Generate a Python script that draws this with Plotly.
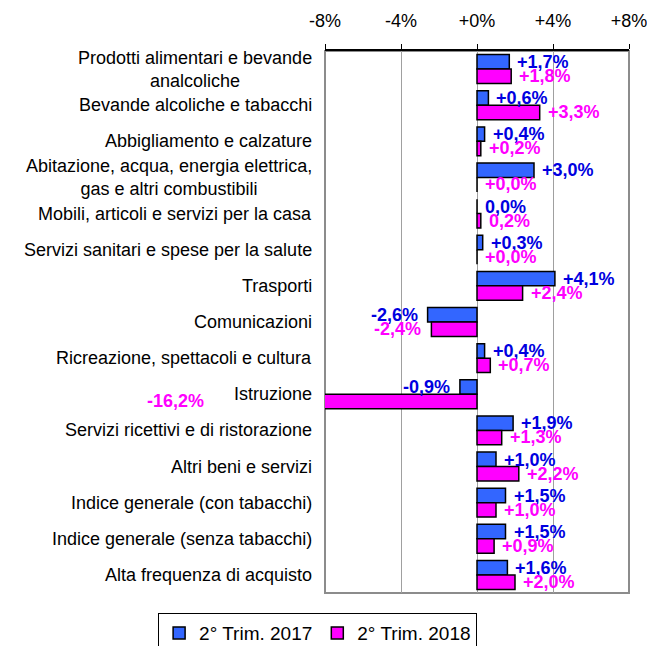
import plotly.graph_objects as go

CATEGORIES = [
    "Prodotti alimentari e bevande<br>analcoliche",
    "Bevande alcoliche e tabacchi",
    "Abbigliamento e calzature",
    "Abitazione, acqua, energia elettrica,<br>gas e altri combustibili",
    "Mobili, articoli e servizi per la casa",
    "Servizi sanitari e spese per la salute",
    "Trasporti",
    "Comunicazioni",
    "Ricreazione, spettacoli e cultura",
    "Istruzione",
    "Servizi ricettivi e di ristorazione",
    "Altri beni e servizi",
    "Indice generale (con tabacchi)",
    "Indice generale (senza tabacchi)",
    "Alta frequenza di acquisto",
]
VALUES_2017 = [1.7, 0.6, 0.4, 3.0, 0.0, 0.3, 4.1, -2.6, 0.4, -0.9, 1.9, 1.0, 1.5, 1.5, 1.6]
VALUES_2018 = [1.8, 3.3, 0.2, 0.0, 0.2, 0.0, 2.4, -2.4, 0.7, -16.2, 1.3, 2.2, 1.0, 0.9, 2.0]
LABELS_2017 = ["+1,7%", "+0,6%", "+0,4%", "+3,0%", "0,0%", "+0,3%", "+4,1%", "-2,6%",
               "+0,4%", "-0,9%", "+1,9%", "+1,0%", "+1,5%", "+1,5%", "+1,6%"]
LABELS_2018 = ["+1,8%", "+3,3%", "+0,2%", "+0,0%", "0,2%", "+0,0%", "+2,4%", "-2,4%",
               "+0,7%", "-16,2%", "+1,3%", "+2,2%", "+1,0%", "+0,9%", "+2,0%"]
SERIES_NAMES = ["2° Trim. 2017", "2° Trim. 2018"]
X_TICKS = [-8, -4, 0, 4, 8]
X_TICK_TEXT = ["-8%", "-4%", "+0%", "+4%", "+8%"]

FONT = "Liberation Sans, Arial, sans-serif"
BAR_COLORS = ["#3366FF", "#FF00FF"]
TEXT_COLORS = ["#0000E0", "#FF00FF"]
XMIN, XMAX = -8, 8

fig = go.Figure()
for name, vals, color in zip(SERIES_NAMES, [VALUES_2017, VALUES_2018], BAR_COLORS):
    fig.add_trace(
        go.Bar(
            y=CATEGORIES,
            x=vals,
            name=name,
            orientation="h",
            marker={"color": color, "line": {"color": "black", "width": 1.5}},
        )
    )

annotations = []

# category names, centred multi-line like the original
for cat in CATEGORIES:
    annotations.append(
        dict(
            x=0,
            xref="paper",
            y=cat,
            yref="y",
            text=cat,
            showarrow=False,
            xanchor="right",
            align="center",
            xshift=-11,
            font={"family": FONT, "size": 18, "color": "black"},
        )
    )

# value labels next to each bar
for k, (vals, labels) in enumerate([(VALUES_2017, LABELS_2017), (VALUES_2018, LABELS_2018)]):
    yshift = 7 if k == 0 else -7
    for cat, v, lab in zip(CATEGORIES, vals, labels):
        ann = dict(
            y=cat,
            text=lab,
            showarrow=False,
            yshift=yshift,
            font={"family": FONT, "size": 18, "color": TEXT_COLORS[k], "weight": "bold"},
        )
        if v < XMIN:
            # bar clipped by the axis: place label at its real position in paper coords
            ann.update(x=(v - XMIN) / (XMAX - XMIN), xref="paper", xanchor="center", xshift=6)
        elif v >= 0:
            ann.update(x=v, xref="x", xanchor="left", xshift=6)
        else:
            ann.update(x=v, xref="x", xanchor="right", xshift=-8)
        annotations.append(ann)

n = len(CATEGORIES)
fig.update_layout(
    width=647,
    height=646,
    margin={"l": 325, "r": 18, "t": 51, "b": 53, "autoexpand": False},
    paper_bgcolor="white",
    plot_bgcolor="white",
    font={"family": FONT, "size": 18, "color": "black"},
    barmode="group",
    bargap=0.2,
    bargroupgap=0,
    annotations=annotations,
    xaxis={
        "side": "top",
        "range": [XMIN, XMAX],
        "tickvals": X_TICKS,
        "ticktext": X_TICK_TEXT,
        "ticks": "outside",
        "ticklen": 5,
        "tickcolor": "black",
        "showline": True,
        "linecolor": "black",
        "linewidth": 1.5,
        "showgrid": True,
        "gridcolor": "#a0a0a0",
        "gridwidth": 1,
        "zeroline": False,
        "automargin": False,
        "ticklabelstandoff": 10,
        "ticklabeloverflow": "allow",
    },
    yaxis={
        "type": "category",
        "range": [n - 0.5, -0.5],
        "showgrid": False,
        "ticks": "",
        "showline": False,
        "showticklabels": False,
        "automargin": False,
    },
    yaxis2={
        "overlaying": "y",
        "anchor": "free",
        "position": 0.5,
        "side": "left",
        "range": [n - 0.5, -0.5],
        "tickvals": [i - 0.5 for i in range(n + 1)],
        "ticks": "outside",
        "ticklen": 4,
        "tickcolor": "black",
        "showticklabels": False,
        "showline": True,
        "linecolor": "black",
        "linewidth": 1.5,
        "showgrid": False,
        "zeroline": False,
        "automargin": False,
    },
    shapes=[
        {
            "type": "rect",
            "xref": "paper",
            "yref": "paper",
            "x0": 0,
            "x1": 1,
            "y0": 0,
            "y1": 1,
            "line": {"color": "#8c8c8c", "width": 2},
            "layer": "below",
        }
    ],
    legend={
        "orientation": "h",
        "xref": "paper",
        "yref": "paper",
        "x": -0.549,
        "xanchor": "left",
        "y": -0.037,
        "yanchor": "top",
        "bordercolor": "black",
        "borderwidth": 1,
        "itemwidth": 30,
        "font": {"size": 19},
    },
    showlegend=True,
)

# drop the default body margin so the figure fills the window without scrollbars
fig.write_html(
    "out.html",
    config={"displayModeBar": False},
    post_script="document.body.style.margin = '0';",
)
